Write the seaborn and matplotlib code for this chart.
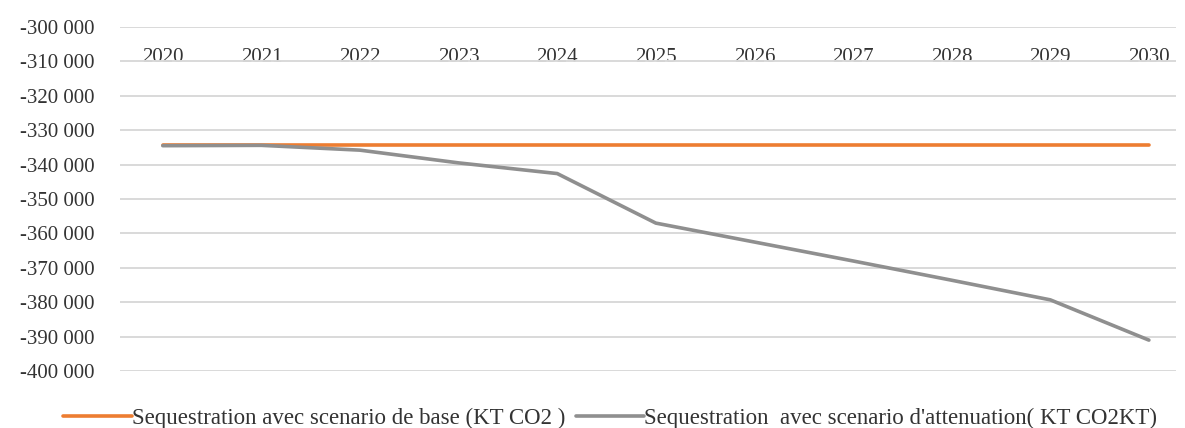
import pandas as pd
import numpy as np
import matplotlib.pyplot as plt
import seaborn as sns

years = ["2020", "2021", "2022", "2023", "2024", "2025", "2026", "2027", "2028", "2029", "2030"]
base = [-334200, -334200, -334200, -334200, -334200, -334200, -334200, -334200, -334200, -334200, -334200]
attenuation = [-334500, -334400, -335800, -339500, -342600, -357000, -362500, -368000, -373600, -379300, -391000]

label_base = "Sequestration avec scenario de base (KT CO2 )"
label_att = "Sequestration  avec scenario d'attenuation( KT CO2KT)"

data = pd.DataFrame({
    "year": years * 2,
    "value": base + attenuation,
    "serie": [label_base] * len(years) + [label_att] * len(years),
})

sns.set_theme(style="white")
plt.rcParams["font.family"] = ["Liberation Serif", "DejaVu Serif"]

fig = plt.figure(figsize=(11.85, 4.28), dpi=100)
ax = fig.add_axes([0.101, 0.133, 0.891, 0.804])

sns.lineplot(data=data, x="year", y="value", hue="serie",
             hue_order=[label_base, label_att],
             palette=["#ED7D31", "#8F8F8F"], linewidth=2.6,
             sort=False, ax=ax)

ax.set_xlim(-0.437, 10.27)
ax.set_ylim(-400000, -300000)
yt = np.arange(-400000, -299999, 10000)
ax.set_yticks(yt)
ax.set_yticklabels([f"-{abs(v) // 1000} 000" for v in yt])
ax.yaxis.grid(True, color="#d9d9d9", linewidth=1.4)
ax.set_axisbelow(True)
for s in ax.spines.values():
    s.set_visible(False)

ax.tick_params(axis="y", length=0, pad=18, labelsize=15, labelcolor="#333333")
ax.tick_params(axis="x", length=0, bottom=False, labelbottom=False,
               top=False, labeltop=True, pad=-29, labelsize=15, labelcolor="#333333")
ax.set_xlabel("")
ax.set_ylabel("")

ax.get_legend().remove()
handles, labels = ax.get_legend_handles_labels()
fig.legend(handles, labels, loc="center", bbox_to_anchor=(0.515, 0.022),
           ncol=2, frameon=False, fontsize=16.5, handlelength=3.0,
           handletextpad=0.0, columnspacing=0.45, labelcolor="#333333",
           borderpad=0)

fig.savefig("out.png", dpi=100)
